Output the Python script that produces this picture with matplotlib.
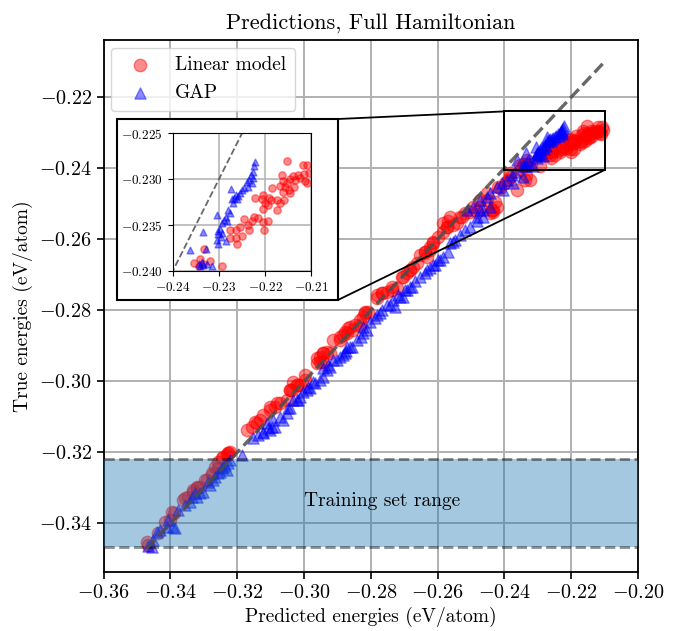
import numpy as np
import matplotlib
matplotlib.use("Agg")
import matplotlib.pyplot as plt
from matplotlib.patches import Rectangle, ConnectionPatch

plt.rcParams['font.family'] = 'serif'
plt.rcParams['font.serif'] = ['cmr10']
plt.rcParams['mathtext.fontset'] = 'cm'
plt.rcParams['axes.formatter.use_mathtext'] = True

# Linear model: predicted (x) vs true (y), eV/atom
lin_pred = [-0.3466, -0.3437, -0.3401, -0.3390, -0.3362, -0.3347, -0.3332, -0.3320,
            -0.3312, -0.3292, -0.3277, -0.3267, -0.3257, -0.3247, -0.3227, -0.3222,
            -0.3232, -0.3172, -0.3157, -0.3142, -0.3132, -0.3102, -0.3087, -0.3072,
            -0.3052, -0.3037, -0.3022, -0.3042, -0.3012, -0.2997, -0.2962, -0.2952,
            -0.2943, -0.2932, -0.2922, -0.2942, -0.2893, -0.2878, -0.2868, -0.2863,
            -0.2883, -0.2818, -0.2808, -0.2823, -0.2783, -0.2768, -0.2753, -0.2738,
            -0.2723, -0.2703, -0.2683, -0.2673, -0.2693, -0.2653, -0.2638, -0.2623,
            -0.2633, -0.2613, -0.2598, -0.2583, -0.2573, -0.2568, -0.2553, -0.2533,
            -0.2518, -0.2503, -0.2483, -0.2443, -0.2433, -0.2473, -0.2453, -0.2438,
            -0.2423, -0.2428, -0.2413, -0.2398, -0.2389, -0.2384, -0.2339, -0.2324,
            -0.2334, -0.2349,
            -0.3471, -0.3416, -0.3396, -0.3357, -0.3332, -0.3322, -0.3297, -0.3277,
            -0.3257, -0.3242, -0.3227, -0.3102, -0.3082, -0.3122, -0.3147, -0.2997,
            -0.3022, -0.3042, -0.3032, -0.2943, -0.2962, -0.2952, -0.2893, -0.2872,
            -0.2853, -0.2833, -0.2913, -0.2848, -0.2833, -0.2818, -0.2783, -0.2768,
            -0.2738, -0.2708, -0.2683, -0.2663, -0.2638, -0.2623, -0.2613, -0.2583,
            -0.2573, -0.2543, -0.2528, -0.2563, -0.2493, -0.2473, -0.2453, -0.2433,
            -0.2419, -0.2384, -0.2363,
            -0.2153, -0.2119, -0.2109, -0.2164, -0.2140, -0.2128, -0.2116, -0.2106,
            -0.2146, -0.2135, -0.2124, -0.2114, -0.2162, -0.2153, -0.2110, -0.2168,
            -0.2157, -0.2148, -0.2137, -0.2162, -0.2146, -0.2186, -0.2204, -0.2207,
            -0.2222, -0.2191, -0.2188, -0.2175, -0.2159, -0.2200, -0.2168, -0.2205,
            -0.2175, -0.2193, -0.2225, -0.2215, -0.2246, -0.2229, -0.2193, -0.2204,
            -0.2202, -0.2236, -0.2254, -0.2262, -0.2234, -0.2277, -0.2275, -0.2249,
            -0.2263, -0.2260, -0.2332, -0.2319, -0.2341, -0.2294, -0.2334, -0.2344,
            -0.2354]
lin_true = [-0.3461, -0.3428, -0.3391, -0.3372, -0.3334, -0.3325, -0.3311, -0.3301,
            -0.3297, -0.3278, -0.3259, -0.3241, -0.3226, -0.3217, -0.3201, -0.3198,
            -0.3207, -0.3137, -0.3128, -0.3118, -0.3109, -0.3081, -0.3072, -0.3062,
            -0.3053, -0.3025, -0.3010, -0.3025, -0.3010, -0.2997, -0.2949, -0.2931,
            -0.2921, -0.2917, -0.2921, -0.2945, -0.2874, -0.2860, -0.2851, -0.2846,
            -0.2870, -0.2808, -0.2804, -0.2818, -0.2757, -0.2752, -0.2748, -0.2743,
            -0.2738, -0.2705, -0.2686, -0.2677, -0.2696, -0.2644, -0.2635, -0.2630,
            -0.2649, -0.2607, -0.2593, -0.2579, -0.2565, -0.2550, -0.2560, -0.2536,
            -0.2527, -0.2522, -0.2522, -0.2527, -0.2522, -0.2508, -0.2489, -0.2517,
            -0.2508, -0.2494, -0.2456, -0.2442, -0.2433, -0.2424, -0.2433, -0.2433,
            -0.2419, -0.2405,
            -0.3452, -0.3396, -0.3367, -0.3330, -0.3306, -0.3297, -0.3278, -0.3264,
            -0.3245, -0.3212, -0.3203, -0.3072, -0.3062, -0.3095, -0.3114, -0.2982,
            -0.3010, -0.3025, -0.3001, -0.2921, -0.2935, -0.2945, -0.2884, -0.2865,
            -0.2856, -0.2841, -0.2884, -0.2841, -0.2827, -0.2804, -0.2766, -0.2752,
            -0.2734, -0.2705, -0.2686, -0.2668, -0.2635, -0.2621, -0.2611, -0.2555,
            -0.2565, -0.2555, -0.2536, -0.2536, -0.2508, -0.2489, -0.2470, -0.2517,
            -0.2452, -0.2414, -0.2461,
            -0.2280, -0.2284, -0.2285, -0.2295, -0.2296, -0.2295, -0.2294, -0.2293,
            -0.2300, -0.2301, -0.2299, -0.2302, -0.2302, -0.2304, -0.2304, -0.2307,
            -0.2309, -0.2312, -0.2308, -0.2314, -0.2315, -0.2310, -0.2317, -0.2321,
            -0.2320, -0.2320, -0.2323, -0.2323, -0.2323, -0.2326, -0.2326, -0.2332,
            -0.2333, -0.2328, -0.2341, -0.2342, -0.2343, -0.2346, -0.2346, -0.2347,
            -0.2355, -0.2350, -0.2352, -0.2355, -0.2355, -0.2355, -0.2364, -0.2362,
            -0.2364, -0.2371, -0.2376, -0.2389, -0.2387, -0.2395, -0.2392, -0.2395,
            -0.2391]

# GAP: predicted (x) vs true (y), eV/atom
gap_pred = [-0.3456, -0.3466, -0.3441, -0.3431, -0.3411, -0.3392, -0.3357, -0.3342,
            -0.3322, -0.3312, -0.3302, -0.3282, -0.3267, -0.3257, -0.3247, -0.3237,
            -0.3227, -0.3222, -0.3232, -0.3187, -0.3152, -0.3137, -0.3122, -0.3107,
            -0.3097, -0.3122, -0.3102, -0.3087, -0.3062, -0.3052, -0.3042, -0.3022,
            -0.3092, -0.3072, -0.3047, -0.3017, -0.2992, -0.2982, -0.2967, -0.2952,
            -0.2943, -0.2943, -0.2928, -0.2913, -0.2893, -0.2878, -0.2872, -0.2922,
            -0.2902, -0.2883, -0.2873, -0.2857, -0.2842, -0.2828, -0.2823, -0.2813,
            -0.2788, -0.2773, -0.2753, -0.2733, -0.2718, -0.2693, -0.2678, -0.2728,
            -0.2703, -0.2653, -0.2633, -0.2613, -0.2598, -0.2583, -0.2568, -0.2563,
            -0.2548, -0.2533, -0.2518, -0.2503, -0.2483, -0.2463, -0.2513, -0.2493,
            -0.2473, -0.2453, -0.2443, -0.2423, -0.2408, -0.2393, -0.2378, -0.2369,
            -0.2483, -0.2463, -0.2443,
            -0.3451, -0.3387, -0.3407, -0.3377, -0.3337, -0.3327, -0.3287, -0.3272,
            -0.3252, -0.3242, -0.2863, -0.2932, -0.2972, -0.2987, -0.3002, -0.3012,
            -0.3032, -0.3112, -0.2553, -0.2593, -0.2608, -0.2623, -0.2638, -0.2668,
            -0.2683, -0.2698, -0.2713, -0.2743, -0.2768, -0.2783, -0.2803, -0.2823,
            -0.2473, -0.2404, -0.2374, -0.2344, -0.2314, -0.2284, -0.2363, -0.2334,
            -0.2304, -0.2274,
            -0.2222, -0.2224, -0.2227, -0.2231, -0.2227, -0.2234, -0.2240, -0.2229,
            -0.2236, -0.2246, -0.2249, -0.2254, -0.2258, -0.2263, -0.2267, -0.2260,
            -0.2272, -0.2269, -0.2280, -0.2276, -0.2285, -0.2289, -0.2283, -0.2294,
            -0.2298, -0.2301, -0.2303, -0.2296, -0.2305, -0.2301, -0.2294, -0.2328,
            -0.2337, -0.2344, -0.2334, -0.2326, -0.2341]
gap_true = [-0.3466, -0.3463, -0.3424, -0.3419, -0.3410, -0.3411, -0.3348, -0.3339,
            -0.3325, -0.3315, -0.3311, -0.3292, -0.3269, -0.3259, -0.3245, -0.3236,
            -0.3231, -0.3222, -0.3250, -0.3208, -0.3161, -0.3151, -0.3142, -0.3132,
            -0.3128, -0.3147, -0.3137, -0.3128, -0.3109, -0.3090, -0.3076, -0.3053,
            -0.3109, -0.3100, -0.3076, -0.3053, -0.3025, -0.3020, -0.3006, -0.2997,
            -0.2987, -0.2963, -0.2954, -0.2940, -0.2931, -0.2921, -0.2903, -0.2959,
            -0.2940, -0.2926, -0.2916, -0.2903, -0.2884, -0.2874, -0.2865, -0.2856,
            -0.2823, -0.2808, -0.2785, -0.2771, -0.2757, -0.2743, -0.2734, -0.2790,
            -0.2762, -0.2705, -0.2686, -0.2672, -0.2658, -0.2649, -0.2635, -0.2611,
            -0.2602, -0.2588, -0.2574, -0.2565, -0.2550, -0.2536, -0.2517, -0.2508,
            -0.2489, -0.2480, -0.2470, -0.2452, -0.2442, -0.2433, -0.2419, -0.2410,
            -0.2536, -0.2517, -0.2508,
            -0.3447, -0.3414, -0.3391, -0.3363, -0.3325, -0.3315, -0.3283, -0.3278,
            -0.3255, -0.3241, -0.2903, -0.2968, -0.3001, -0.3015, -0.3029, -0.3043,
            -0.3053, -0.3118, -0.2607, -0.2658, -0.2672, -0.2682, -0.2696, -0.2719,
            -0.2734, -0.2743, -0.2762, -0.2785, -0.2799, -0.2813, -0.2832, -0.2846,
            -0.2517, -0.2461, -0.2442, -0.2424, -0.2395, -0.2367, -0.2377, -0.2358,
            -0.2339, -0.2311,
            -0.2281, -0.2286, -0.2292, -0.2295, -0.2299, -0.2301, -0.2303, -0.2304,
            -0.2308, -0.2310, -0.2312, -0.2315, -0.2318, -0.2317, -0.2320, -0.2322,
            -0.2322, -0.2326, -0.2334, -0.2337, -0.2341, -0.2344, -0.2346, -0.2348,
            -0.2354, -0.2356, -0.2360, -0.2363, -0.2366, -0.2371, -0.2359, -0.2376,
            -0.2390, -0.2392, -0.2393, -0.2392, -0.2395]

train_lo, train_hi = -0.3468, -0.3218
zoom_x = (-0.24, -0.21)
zoom_y = (-0.2405, -0.224)

fig = plt.figure(figsize=(6.75, 6.31), dpi=100)
ax = fig.add_axes([0.1536, 0.0935, 0.7916, 0.8431])

ax.scatter(lin_pred, lin_true, s=80, c='r', alpha=0.45, label='Linear model', zorder=2)
ax.scatter(gap_pred, gap_true, s=65, c='b', marker='^', alpha=0.45, label='GAP', zorder=2)

allv = lin_pred + lin_true + gap_pred + gap_true
lo, hi = min(allv), max(allv)

ax.axhspan(train_lo, train_hi, color='C0', alpha=0.4, lw=0, zorder=3)
ax.axhline(train_lo, color='k', alpha=0.45, ls='--', lw=2, zorder=3)
ax.axhline(train_hi, color='k', alpha=0.45, ls='--', lw=2, zorder=3)
ax.plot([lo, hi], [lo, hi], ls='--', color='0.3', alpha=0.85, lw=2.4, zorder=4)
ax.text(-0.30, -0.3336, 'Training set range', ha='left', va='center',
        fontsize=14, zorder=5)

ax.add_patch(Rectangle((zoom_x[0], zoom_y[0]), zoom_x[1] - zoom_x[0], zoom_y[1] - zoom_y[0],
                       fill=False, ec='k', lw=1.4, zorder=5))

ax.set_xlim(-0.36, -0.20)
ax.set_ylim(-0.3537, -0.2039)
ax.set_xticks(np.arange(-0.36, -0.199, 0.02))
ax.set_yticks(np.arange(-0.34, -0.219, 0.02))
ax.grid(True, color='#b0b0b0', lw=1.4, zorder=0)
ax.set_axisbelow(True)
ax.tick_params(labelsize=14.5, width=1.2, length=5)
for sp in ax.spines.values():
    sp.set_linewidth(1.3)
ax.set_xlabel('Predicted energies (eV/atom)', fontsize=14)
ax.set_ylabel('True energies (eV/atom)', fontsize=14)
ax.set_title('Predictions, Full Hamiltonian', fontsize=16, pad=8)
ax.legend(loc='upper left', fontsize=14, framealpha=0.8, borderpad=0.45,
          handletextpad=0.8, borderaxespad=0.4)

# white box that holds the inset and its labels
box = [0.1733, 0.5246, 0.5007, 0.8114]
fig.add_artist(Rectangle((box[0], box[1]), box[2] - box[0], box[3] - box[1],
                         transform=fig.transFigure, fc='white', ec='k', lw=1.5, zorder=2))
for pa, pb in [((box[2], box[3]), (zoom_x[0], zoom_y[1])),
               ((box[2], box[1]), (zoom_x[1], zoom_y[0]))]:
    con = ConnectionPatch(xyA=pa, coordsA=fig.transFigure, xyB=pb, coordsB=ax.transData,
                          color='k', lw=1.3, zorder=2)
    fig.add_artist(con)

axin = fig.add_axes([0.2559, 0.5705, 0.2053, 0.2182], zorder=3)
axin.scatter(lin_pred, lin_true, s=28, c='r', alpha=0.45)
axin.scatter(gap_pred, gap_true, s=24, c='b', marker='^', alpha=0.45)
axin.plot([lo, hi], [lo, hi], ls='--', color='0.3', alpha=0.85, lw=1.3)
axin.set_xlim(-0.24, -0.21)
axin.set_ylim(-0.240, -0.225)
axin.set_xticks([-0.24, -0.23, -0.22, -0.21])
axin.set_yticks([-0.240, -0.235, -0.230, -0.225])
axin.grid(True, color='#b0b0b0', lw=1.1)
axin.set_axisbelow(True)
axin.tick_params(labelsize=9.5)

fig.savefig('out.png', dpi=100)
